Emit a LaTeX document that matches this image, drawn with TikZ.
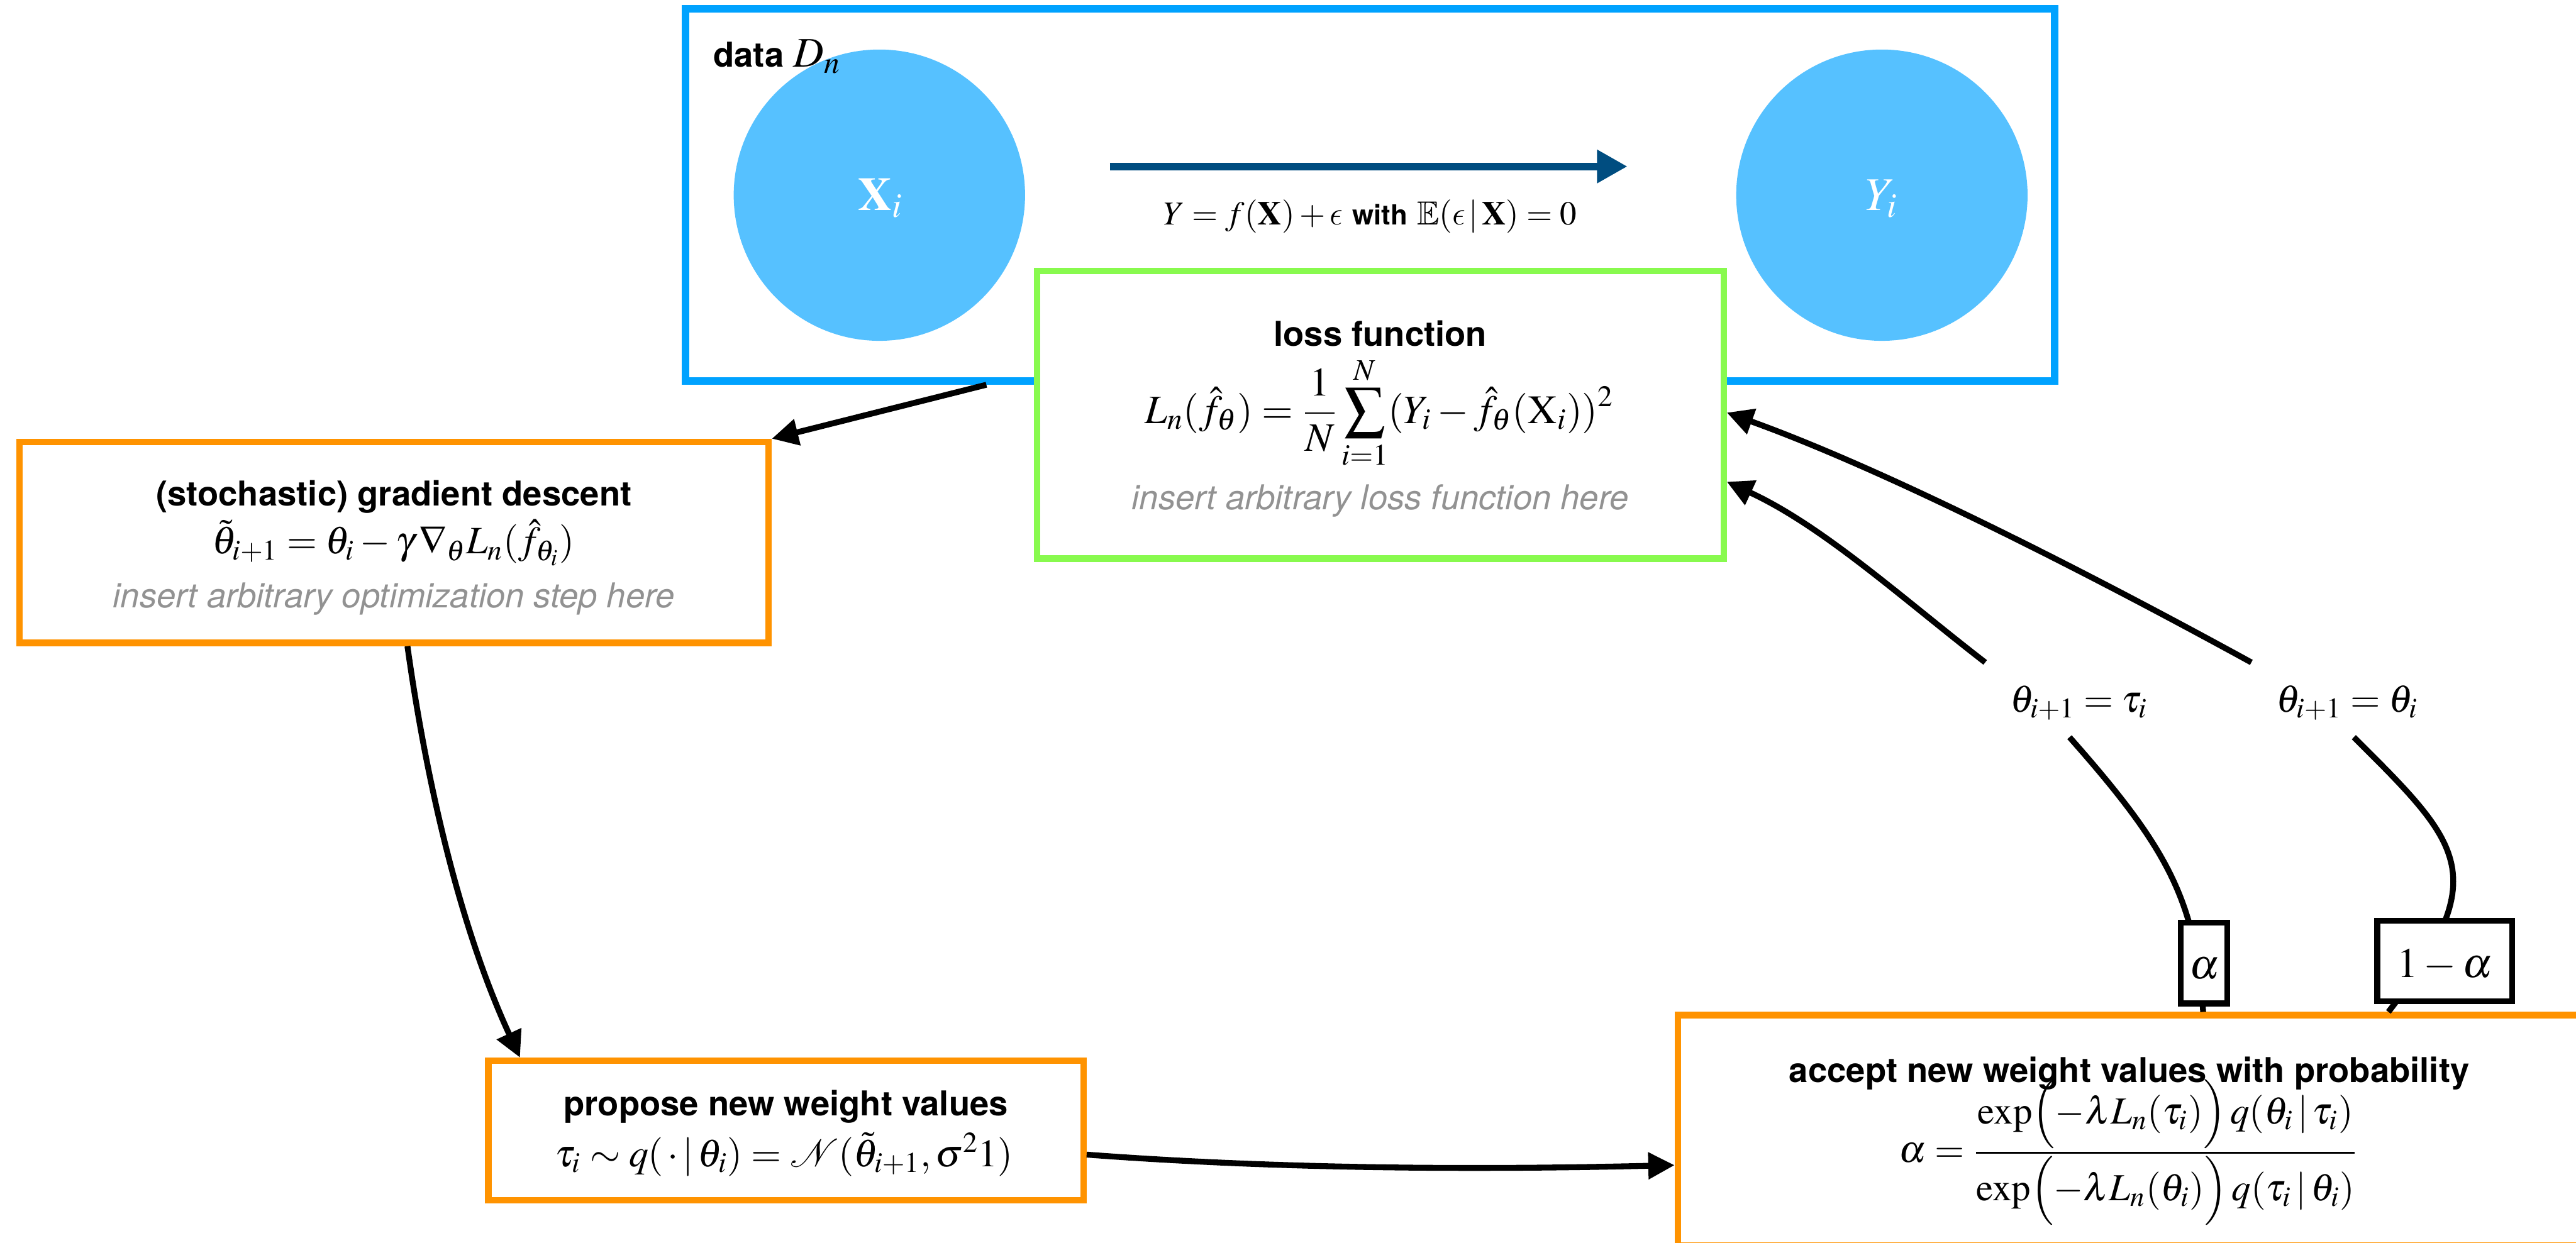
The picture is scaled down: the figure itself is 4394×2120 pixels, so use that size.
\documentclass[tikz,border=0pt]{standalone}
\usepackage{graphicx}
\usepackage{amsmath}
\usepackage{amssymb}
\usepackage{mathptmx}
\usepackage[no-math]{fontspec}
\setmainfont{TeX Gyre Heros}
\usetikzlibrary{arrows.meta,calc}

% lunate epsilon taken from the Computer Modern math italic font
\DeclareSymbolFont{cmlet}{OML}{cmm}{m}{it}
\DeclareMathSymbol{\leps}{\mathord}{cmlet}{"0F}

\definecolor{boxblue}{RGB}{0,162,255}
\definecolor{ballblue}{RGB}{86,193,255}
\definecolor{funblue}{RGB}{0,77,128}
\definecolor{lossgreen}{RGB}{136,250,78}
\definecolor{steporange}{RGB}{255,147,0}
\definecolor{hintgray}{RGB}{146,146,146}

\newcommand\tsz{\fontsize{14.6}{17.5}\selectfont}
\newcommand\msz{\fontsize{18}{21.6}\selectfont}
% formula set to a given width
\newcommand\eqw[2]{\resizebox{#1}{!}{$#2$}}
% numerator and denominator placed at fixed heights
\newcommand\fixfrac[2]{\dfrac{\smash{\raisebox{4.85pt}{$\displaystyle #1$}}}{\smash{\raisebox{-4.7pt}{$\displaystyle #2$}}}}

\tikzset{
  databox/.style={draw=boxblue, line width=3.25pt, inner sep=0pt},
  lossbox/.style={draw=lossgreen, fill=white, line width=2.75pt, inner sep=0pt},
  stepbox/.style={draw=steporange, fill=white, line width=2.75pt, inner sep=0pt},
  probbox/.style={draw=black, fill=white, line width=2.5pt, inner sep=0pt},
  ball/.style={circle, fill=ballblue, minimum size=124.25pt, inner sep=0pt},
  conn/.style={line width=2.5pt},
  arr/.style={conn, -{Triangle[length=11.25pt,width=11pt]}},
  funarr/.style={draw=funblue, line width=3.25pt, -{Triangle[length=13pt,width=13.5pt]}},
  title/.style={font=\tsz\bfseries, anchor=base, inner sep=0pt},
  hint/.style={font=\tsz\itshape, text=hintgray, anchor=base, inner sep=0pt},
  eqn/.style={font=\msz, anchor=base, inner sep=0pt},
  update/.style={font=\msz, inner sep=0pt, minimum height=31.5pt, text height=10.5pt, text depth=0pt},
}

\begin{document}
\begin{tikzpicture}[x=0.25pt, y=-0.25pt]
\useasboundingbox (0,0) rectangle (4394,2120);
\clip (0,0) rectangle (4394,2120);

% data set with inputs and outputs
\node[databox, minimum width=584pt, minimum height=158.75pt] (data) at (2337,332.5) {};
\node[ball] (xi) at (1500,333) {};
\node[ball] (yi) at (3210,333) {};
\node[anchor=base west, inner sep=0pt, font=\tsz\bfseries] (dlabel) at (1216,114) {data {\msz$D_n$}};
\node[anchor=base, inner sep=0pt, text=white, font=\fontsize{20}{24}\selectfont] (xit) at (1502,359) {$\mathbf{X}_i$};
\node[anchor=base, inner sep=0pt, text=white, font=\fontsize{20}{24}\selectfont] (yit) at (3210,359) {$Y_i$};
\coordinate (fs) at (1893,284);
\coordinate (fe) at (2776,284);
\draw[funarr] (fs) -- (fe);
\node[anchor=base, inner sep=0pt, font=\fontsize{14.5}{17}\selectfont] (model) at (2337,383)
  {\resizebox{176pt}{!}{$Y = f(\mathbf{X}) + \leps$ {\fontsize{12}{14}\selectfont\bfseries with} $\mathbb{E}(\leps\,|\,\mathbf{X}) = 0$}};

% loss function
\node[lossbox, minimum width=292.75pt, minimum height=122.75pt] (loss) at (2354.5,707.5) {};
\node[title] (losst) at (2354.5,591) {loss function};
\node[eqn] (losseq) at (2353,722)
  {\eqw{200pt}{\displaystyle L_n(\hat f_\theta) = \frac{1}{N}\sum_{i=1}^{N}(Y_i - \hat f_\theta(\mathrm{X}_i))^2}};
\node[hint] (lossh) at (2354.5,869) {insert arbitrary loss function here};

% optimisation step
\node[stepbox, minimum width=319.5pt, minimum height=85.75pt] (sgd) at (672,925.5) {};
\node[title] (sgdt) at (672,863) {(stochastic) gradient descent};
\node[eqn] (sgdeq) at (671,945)
  {\eqw{154.5pt}{\tilde\theta_{i+1} = \theta_i - \gamma\,\nabla_\theta L_n(\hat f_{\theta_i})}};
\node[hint] (sgdh) at (672,1037) {insert arbitrary optimization step here};

% proposal
\node[stepbox, minimum width=253.75pt, minimum height=59.5pt] (prop) at (1340.5,1929) {};
\node[title] (propt) at (1340.5,1904) {propose new weight values};
\node[eqn] (propeq) at (1337.5,1990)
  {\eqw{195.25pt}{\tau_i \sim q(\,\cdot\,|\,\theta_i) = \mathcal{N}(\tilde\theta_{i+1}, \sigma^2 1)}};

% acceptance step
\node[stepbox, minimum width=384.75pt, minimum height=98.25pt] (acc) at (3631.5,1928.5) {};
\node[title] (acct) at (3632,1847) {accept new weight values with probability};
\node[anchor=base, inner sep=0pt, font=\fontsize{15}{18}\selectfont] (acceq) at (3630.5,1983)
  {\eqw{195.75pt}{\alpha = \fixfrac{\exp\Bigl(-\lambda L_n(\tau_i)\Bigr)\, q(\theta_i\,|\,\tau_i)}{\exp\Bigl(-\lambda L_n(\theta_i)\Bigr)\, q(\tau_i\,|\,\theta_i)}}};

% outcomes of the acceptance step
\node[update, minimum width=79.5pt] (l1) at (3546,1194) {\eqw{58.5pt}{\theta_{i+1} = \tau_i}};
\node[update, minimum width=81.25pt] (l2) at (4003.5,1194) {\eqw{60.25pt}{\theta_{i+1} = \theta_i}};

% connectors
\draw[arr] ($(data.south west)+(520,0)$) -- (sgd.north east);
\draw[arr] ($(sgd.south west)+(667.5,0)$) .. controls (728,1339) and (786,1586) .. ($(prop.north west)+(59.5,0)$);
\draw[arr] ($(prop.east)+(0,41)$) .. controls (2184,1995) and (2526,1996) .. ($(acc.west)+(0,59.5)$);
\draw[conn] ($(acc.north west)+(901.5,0)$) .. controls (3745,1533) and (3695,1444.5) .. ($(l1.south)+(-16,0)$);
\draw[conn] ($(acc.north west)+(1217.5,0)$) .. controls (4254,1493) and (4200,1442) .. ($(l2.south)+(11.5,0)$);
\draw[arr] (l1.north west) .. controls (3245,1021) and (3110,898) .. ($(loss.east)+(0,114.5)$);
\draw[arr] (l2.north west) .. controls (3579,987) and (3228,806) .. ($(loss.east)+(0,-3.5)$);

% probabilities on the two branches
\node[probbox, minimum width=19.75pt, minimum height=34.5pt] (pa) at (3759.5,1643) {};
\node[anchor=base, inner sep=0pt, font=\msz] (pat) at (3760,1670) {$\alpha$};
\node[probbox, minimum width=57.5pt, minimum height=34.25pt] (pb) at (4170,1639.5) {};
\node[anchor=base, inner sep=0pt, font=\msz] (pbt) at (4170,1668) {$1-\alpha$};
\end{tikzpicture}
\end{document}
